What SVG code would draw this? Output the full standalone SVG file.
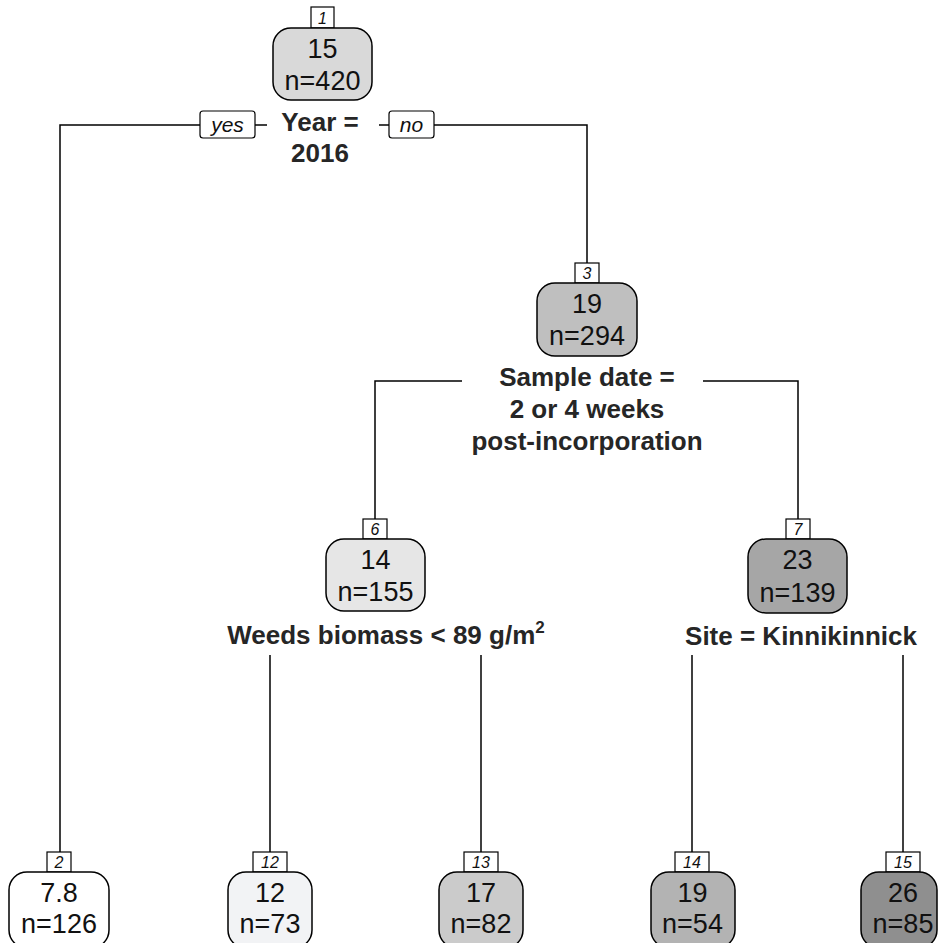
<svg xmlns="http://www.w3.org/2000/svg" width="938" height="943" viewBox="0 0 938 943">
<style>
.bg{fill:#ffffff}
.box{stroke:#000;stroke-width:1.5}
.lab{fill:#fff;stroke:#000;stroke-width:1.2}
.val{font-family:"Liberation Sans",Arial,sans-serif;font-size:27px;fill:#111;text-anchor:middle}
.num{font-family:"Liberation Sans",Arial,sans-serif;font-size:16px;font-style:italic;fill:#111;text-anchor:middle}
.yn{font-family:"Liberation Sans",Arial,sans-serif;font-size:21px;font-style:italic;fill:#111;text-anchor:middle}
.split{font-family:"Liberation Sans",Arial,sans-serif;font-size:26px;font-weight:bold;fill:#262626;text-anchor:middle}
.edge{fill:none;stroke:#000;stroke-width:1.5}
</style>
<rect class="bg" x="0" y="0" width="938" height="943"/>
<g id="connectors">
<polyline class="edge" points="200,125 60,125 60,852"/>
<line class="edge" x1="255" y1="125" x2="267" y2="125"/>
<line class="edge" x1="379" y1="125" x2="389" y2="125"/>
<polyline class="edge" points="434,125 587,125 587,263"/>
<polyline class="edge" points="462,381 375,381 375,519"/>
<polyline class="edge" points="703,381 798,381 798,519"/>
<line class="edge" x1="270" y1="655" x2="270" y2="852"/>
<line class="edge" x1="481" y1="655" x2="481" y2="852"/>
<line class="edge" x1="692" y1="655" x2="692" y2="852"/>
<line class="edge" x1="903" y1="655" x2="903" y2="852"/>
<rect class="lab" x="200" y="111" width="55" height="27" rx="3"/>
<text class="yn" x="227.5" y="132">yes</text>
<rect class="lab" x="389" y="111" width="45" height="27" rx="3"/>
<text class="yn" x="411.5" y="132">no</text>
</g>
<g id="node1">
<rect class="lab" x="311" y="7" width="23" height="21"/>
<text class="num" x="322.5" y="24">1</text>
<rect class="box" x="273" y="28" width="99" height="72" rx="18" fill="#d9d9d9"/>
<text class="val" x="322.5" y="58">15</text>
<text class="val" x="322.5" y="90">n=420</text>
<text class="split" x="320" y="131">Year =</text>
<text class="split" x="320" y="162">2016</text>
</g>
<g id="node3">
<rect class="lab" x="575" y="263" width="24" height="20"/>
<text class="num" x="587" y="279">3</text>
<rect class="box" x="537" y="283" width="100" height="73" rx="18" fill="#bfbfbf"/>
<text class="val" x="587" y="313">19</text>
<text class="val" x="587" y="345">n=294</text>
<text class="split" x="587" y="386">Sample date =</text>
<text class="split" x="587" y="418">2 or 4 weeks</text>
<text class="split" x="587" y="450">post-incorporation</text>
</g>
<g id="node6">
<rect class="lab" x="363" y="519" width="24" height="20"/>
<text class="num" x="375" y="535">6</text>
<rect class="box" x="326" y="539" width="99" height="72" rx="18" fill="#e6e6e6"/>
<text class="val" x="375.5" y="569">14</text>
<text class="val" x="375.5" y="601">n=155</text>
<text class="split" x="386" y="644">Weeds biomass &lt; 89 g/m<tspan dy="-11" font-size="17">2</tspan></text>
</g>
<g id="node7">
<rect class="lab" x="786" y="519" width="24" height="20"/>
<text class="num" x="798" y="535">7</text>
<rect class="box" x="748" y="539" width="99" height="74" rx="18" fill="#a6a6a6"/>
<text class="val" x="797.5" y="569">23</text>
<text class="val" x="797.5" y="602">n=139</text>
<text class="split" x="801" y="645">Site = Kinnikinnick</text>
</g>
<g id="node2">
<rect class="lab" x="47" y="852" width="24" height="20"/>
<text class="num" x="59" y="868">2</text>
<rect class="box" x="9" y="872" width="100" height="76" rx="18" fill="#ffffff"/>
<text class="val" x="59" y="902">7.8</text>
<text class="val" x="59" y="933">n=126</text>
</g>
<g id="node12">
<rect class="lab" x="253" y="852" width="34" height="20"/>
<text class="num" x="270" y="868">12</text>
<rect class="box" x="228" y="872" width="84" height="76" rx="18" fill="#f2f3f5"/>
<text class="val" x="270" y="902">12</text>
<text class="val" x="270" y="933">n=73</text>
</g>
<g id="node13">
<rect class="lab" x="464" y="852" width="34" height="20"/>
<text class="num" x="481" y="868">13</text>
<rect class="box" x="439" y="872" width="84" height="76" rx="18" fill="#cbcbcb"/>
<text class="val" x="481" y="902">17</text>
<text class="val" x="481" y="933">n=82</text>
</g>
<g id="node14">
<rect class="lab" x="675" y="852" width="34" height="20"/>
<text class="num" x="692" y="868">14</text>
<rect class="box" x="651" y="872" width="84" height="76" rx="18" fill="#b3b3b3"/>
<text class="val" x="692.5" y="902">19</text>
<text class="val" x="692.5" y="933">n=54</text>
</g>
<g id="node15">
<rect class="lab" x="886" y="852" width="34" height="20"/>
<text class="num" x="903" y="868">15</text>
<rect class="box" x="861" y="872" width="76" height="76" rx="18" fill="#8f8f8f"/>
<text class="val" x="903" y="902">26</text>
<text class="val" x="903" y="933">n=85</text>
</g>
</svg>
